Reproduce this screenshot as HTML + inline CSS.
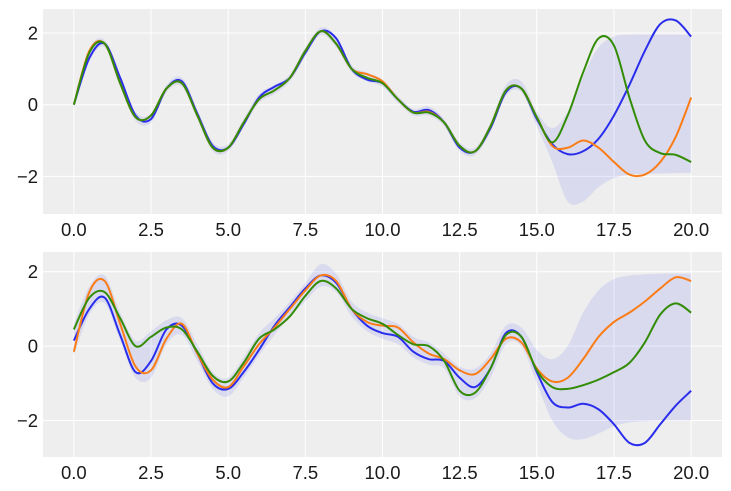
<!DOCTYPE html>
<html><head><meta charset="utf-8"><style>
html,body{margin:0;padding:0;background:#fff}
svg{display:block;font-family:"Liberation Sans","DejaVu Sans",sans-serif}
</style></head><body>
<svg id="chart" width="731" height="491" viewBox="0 0 731 491" xmlns="http://www.w3.org/2000/svg"></svg>
<script>
const xs = [0,0.5,1,1.5,2,2.5,3,3.5,4,4.5,5,5.5,6,6.5,7,7.5,8,8.5,9,9.5,10,10.5,11,11.5,12,12.5,13,13.5,14,14.5,15,15.5,16,16.5,17,17.5,18,18.5,19,19.5,20];
const xTicks = [0,2.5,5,7.5,10,12.5,15,17.5,20];
const xTickLabels = ["0.0","2.5","5.0","7.5","10.0","12.5","15.0","17.5","20.0"];
const yTicks = [2,0,-2];
const yTickLabels = ["2","0","\u22122"];

const topBlue = [0,1.3,1.7,0.75,-0.3,-0.4,0.45,0.65,-0.25,-1.15,-1.2,-0.55,0.2,0.5,0.75,1.45,2.05,1.85,1.0,0.7,0.6,0.15,-0.2,-0.15,-0.5,-1.2,-1.3,-0.65,0.35,0.45,-0.4,-1.1,-1.38,-1.3,-0.95,-0.3,0.55,1.5,2.25,2.35,1.9];
const topOrange = [0,1.5,1.7,0.6,-0.35,-0.3,0.45,0.6,-0.3,-1.2,-1.2,-0.5,0.15,0.4,0.75,1.5,2.05,1.7,1.0,0.85,0.65,0.15,-0.22,-0.2,-0.5,-1.15,-1.3,-0.6,0.4,0.45,-0.35,-1.15,-1.2,-1.0,-1.2,-1.6,-1.95,-1.95,-1.6,-0.9,0.2];
const topGreen = [0,1.45,1.7,0.6,-0.35,-0.3,0.45,0.6,-0.3,-1.2,-1.2,-0.5,0.15,0.4,0.75,1.5,2.05,1.7,1.0,0.75,0.6,0.15,-0.22,-0.22,-0.5,-1.15,-1.3,-0.6,0.4,0.45,-0.35,-1.05,-0.3,0.9,1.85,1.65,0.2,-1.0,-1.35,-1.4,-1.6];
const topUpper = [0.05,1.55,1.8,0.8,-0.2,-0.25,0.55,0.75,-0.15,-1.05,-1.1,-0.4,0.3,0.55,0.85,1.6,2.15,1.9,1.1,0.9,0.7,0.25,-0.12,-0.05,-0.4,-1.05,-1.2,-0.5,0.55,0.65,-0.2,-0.65,-0.2,0.8,1.6,1.9,1.95,1.95,1.95,1.95,1.95];
const topLower = [-0.1,1.2,1.6,0.5,-0.45,-0.5,0.35,0.5,-0.4,-1.3,-1.3,-0.6,0.05,0.3,0.65,1.35,1.95,1.6,0.9,0.65,0.5,0.05,-0.3,-0.3,-0.6,-1.3,-1.4,-0.75,0.25,0.35,-0.6,-1.6,-2.7,-2.7,-2.3,-2.05,-1.95,-1.93,-1.92,-1.91,-1.9];

const botBlue = [0.15,1.0,1.3,0.3,-0.7,-0.4,0.45,0.55,-0.2,-1.0,-1.15,-0.7,-0.1,0.55,1.05,1.55,1.9,1.7,1.0,0.55,0.35,0.25,-0.15,-0.35,-0.4,-0.85,-1.1,-0.6,0.35,0.25,-0.7,-1.5,-1.65,-1.55,-1.7,-2.1,-2.6,-2.6,-2.1,-1.6,-1.2];
const botOrange = [-0.15,1.45,1.75,0.6,-0.55,-0.65,0.2,0.6,-0.2,-0.9,-1.1,-0.55,0.05,0.5,1.0,1.5,1.9,1.75,1.0,0.65,0.55,0.5,0.1,-0.2,-0.35,-0.65,-0.75,-0.35,0.2,0.1,-0.6,-0.95,-0.85,-0.35,0.25,0.65,0.9,1.2,1.55,1.85,1.75];
const botGreen = [0.45,1.3,1.45,0.75,0.0,0.25,0.5,0.45,-0.15,-0.8,-0.95,-0.45,0.2,0.45,0.8,1.35,1.75,1.55,1.0,0.75,0.6,0.3,0.05,0.0,-0.4,-1.2,-1.25,-0.6,0.3,0.25,-0.65,-1.1,-1.15,-1.05,-0.9,-0.7,-0.45,0.1,0.85,1.15,0.9];
const botUpper = [0.6,1.6,1.9,0.9,0.15,0.4,0.7,0.75,0.05,-0.7,-0.85,-0.3,0.35,0.75,1.2,1.7,2.2,1.95,1.2,0.9,0.75,0.6,0.25,0.1,-0.2,-0.55,-0.6,-0.2,0.55,0.5,-0.1,-0.35,0.0,0.9,1.5,1.8,1.9,1.93,1.95,1.95,1.95];
const botLower = [-0.25,0.85,1.15,0.15,-0.85,-0.85,0.05,0.3,-0.4,-1.15,-1.35,-0.85,-0.25,0.3,0.8,1.2,1.6,1.45,0.8,0.4,0.2,0.05,-0.3,-0.5,-0.6,-1.35,-1.4,-0.85,0.05,0.0,-1.0,-2.0,-2.45,-2.5,-2.35,-2.15,-2.05,-2.02,-2.0,-2.0,-2.0];

const svg = document.getElementById('chart');
const NS = 'http://www.w3.org/2000/svg';
function mk(tag, attrs, parent){
  const e = document.createElementNS(NS, tag);
  for (const k in attrs) e.setAttribute(k, attrs[k]);
  parent.appendChild(e);
  return e;
}
function pathFrom(pts){
  let d = 'M' + pts[0][0].toFixed(2) + ',' + pts[0][1].toFixed(2);
  for (let i=0;i<pts.length-1;i++){
    const p0 = pts[i-1]||pts[i], p1 = pts[i], p2 = pts[i+1], p3 = pts[i+2]||p2;
    const c1 = [p1[0]+(p2[0]-p0[0])/6, p1[1]+(p2[1]-p0[1])/6];
    const c2 = [p2[0]-(p3[0]-p1[0])/6, p2[1]-(p3[1]-p1[1])/6];
    d += 'C'+c1[0].toFixed(2)+','+c1[1].toFixed(2)+' '+c2[0].toFixed(2)+','+c2[1].toFixed(2)+' '+p2[0].toFixed(2)+','+p2[1].toFixed(2);
  }
  return d;
}
function panel(name, top, bottom, ymax, ymin, upper, lower, series){
  const left = 43, right = 722;
  const xS = v => left + (v - (-1.0)) / 22.0 * (right - left);
  const yS = v => top + (ymax - v) / (ymax - ymin) * (bottom - top);
  const g = mk('g', {}, svg);
  
  
  const bg = mk('rect', {x:left, y:top, width:right-left, height:bottom-top, fill:'#eeeeee'}, g);
  
  
  xTicks.forEach((t,i)=>{
    const ln = mk('line', {x1:xS(t), x2:xS(t), y1:top, y2:bottom, stroke:'#ffffff', 'stroke-width':1}, g);
    
    
    const tx = mk('text', {x:xS(t), y:bottom+22, 'text-anchor':'middle', 'font-size':18.5, fill:'#1a1a1a'}, g);
    tx.textContent = xTickLabels[i];
    
    
  });
  yTicks.forEach((t,i)=>{
    const ln = mk('line', {x1:left, x2:right, y1:yS(t), y2:yS(t), stroke:'#ffffff', 'stroke-width':1}, g);
    
    
    const tx = mk('text', {x:left-5, y:yS(t)+6.5, 'text-anchor':'end', 'font-size':18.5, fill:'#1a1a1a'}, g);
    tx.textContent = yTickLabels[i];
    
    
  });
  const up = xs.map((x,i)=>[xS(x), yS(upper[i])]);
  const lo = xs.map((x,i)=>[xS(x), yS(lower[i])]).reverse();
  let d = pathFrom(up) + pathFrom(lo).replace('M','L') + 'Z';
  const band = mk('path', {d:d, fill:'#2a2eec', 'fill-opacity':0.1, stroke:'none'}, g);
  
  
  series.forEach(s=>{
    const pts = xs.map((x,i)=>[xS(x), yS(s.vals[i])]);
    const p = mk('path', {d:pathFrom(pts), fill:'none', stroke:s.color, 'stroke-width':2, 'stroke-linejoin':'round'}, g);
    
    
  });
}
panel('top-panel', 9, 214, 2.67, -3.05, topUpper, topLower, [
  {key:'blue-sample', vals:topBlue, color:'#2a2eec'},
  {key:'orange-sample', vals:topOrange, color:'#fa7c17'},
  {key:'green-sample', vals:topGreen, color:'#328c06'}
]);
panel('bottom-panel', 252, 457, 2.53, -2.98, botUpper, botLower, [
  {key:'blue-sample', vals:botBlue, color:'#2a2eec'},
  {key:'orange-sample', vals:botOrange, color:'#fa7c17'},
  {key:'green-sample', vals:botGreen, color:'#328c06'}
]);
</script>
</body></html>
